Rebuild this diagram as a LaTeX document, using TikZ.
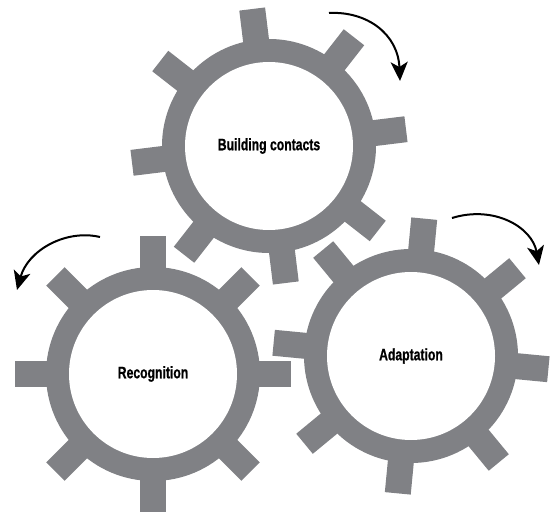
\documentclass[tikz,border=0pt]{standalone}
\usepackage{fontspec}
\setmainfont{Liberation Sans}[FakeStretch=0.735, BoldFeatures={FakeBold=0.8}]
\usetikzlibrary{arrows.meta}
\definecolor{geargray}{RGB}{128,129,133}
\tikzset{
  gearlabel/.style={circle, fill=white, minimum size=168pt, inner sep=0pt,
    font=\fontsize{16.6}{19}\selectfont\bfseries},
  turnarrow/.style={line width=2pt, -{Stealth[length=19pt, width=17pt, inset=5pt]}},
}
% a gear: eight teeth, a ring and a white hub carrying the label
\newcommand{\drawgear}[4]{% name, centre, rotation, label
  \begin{scope}[shift={#2}, rotate=#3]
    \foreach \a in {0,45,...,315}
      \fill[geargray, rotate=\a] (95pt,-13pt) rectangle (138pt,13pt);
    \fill[geargray] (0,0) circle (107pt);
  \end{scope}
  \node[gearlabel] (#1) at #2 {#4};
}
\begin{document}
\begin{tikzpicture}[x=1pt, y=1pt]
  \useasboundingbox (0,0) rectangle (551,512);
  \drawgear{contacts}{(269,366)}{7}{Building contacts}
  \drawgear{recognition}{(153,138)}{0}{Recognition}
  \drawgear{adaptation}{(411,156)}{-5.5}{Adaptation}
  % rotation arrows
  \coordinate (ta) at (329,499);
  \coordinate (tb) at (400,431);
  \draw[turnarrow] (ta) .. controls (367,501) and (398,478) .. (tb);
  \coordinate (ra) at (100,275);
  \coordinate (rb) at (17,222);
  \draw[turnarrow] (ra) .. controls (66,283) and (28,262) .. (rb);
  \coordinate (aa) at (452,294);
  \coordinate (ab) at (539,247);
  \draw[turnarrow] (aa) .. controls (494,307) and (532,285) .. (ab);
\end{tikzpicture}
\end{document}
